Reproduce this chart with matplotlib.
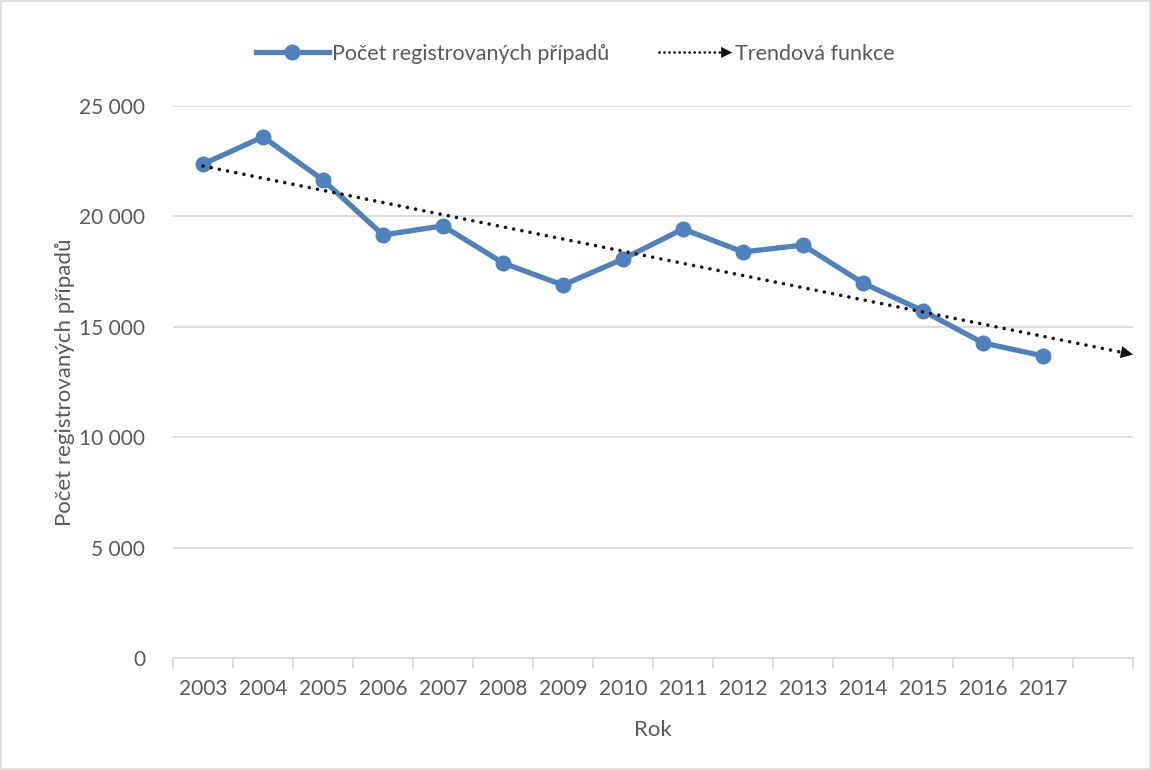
import numpy as np
import matplotlib
matplotlib.use("Agg")
import matplotlib.pyplot as plt
from matplotlib.legend_handler import HandlerLine2D
from matplotlib.lines import Line2D
from matplotlib.patches import Polygon, Rectangle
from matplotlib.ticker import FuncFormatter, FixedLocator

years = ["2003", "2004", "2005", "2006", "2007", "2008", "2009", "2010",
         "2011", "2012", "2013", "2014", "2015", "2016", "2017"]
cases = [22370, 23600, 21650, 19160, 19570, 17890, 16890, 18070,
         19430, 18390, 18700, 16980, 15720, 14270, 13680]

blue = "#4F81BD"
grey_text = "#595959"
grid_col = "#D9D9D9"
dark = "#111111"

plt.rcParams["font.family"] = ["Lato", "DejaVu Sans"]


class HandlerArrowLine(HandlerLine2D):
    """dotted line in the legend with a small arrow head at its right end"""
    def create_artists(self, legend, orig_handle, xdescent, ydescent,
                       width, height, fontsize, trans):
        arts = super().create_artists(legend, orig_handle, xdescent, ydescent,
                                      width - 8, height, fontsize, trans)
        y = height / 2 - ydescent
        x1 = width - xdescent
        head = Polygon([[x1 - 8, y - 4], [x1 - 8, y + 4], [x1, y]],
                       closed=True, facecolor=dark, edgecolor="none",
                       transform=trans)
        return arts + [head]


fig = plt.figure(figsize=(11.51, 7.70), dpi=100)
ax = fig.add_axes([173 / 1151, 1 - 658 / 770, 960 / 1151, 552 / 770])

x = np.arange(len(years))
ax.plot(x, cases, color=blue, lw=3.8, marker="o", markersize=10.5,
        solid_joinstyle="round", zorder=3)

# linear trend, forecast to the right edge of the axis
k, q = np.polyfit(x, cases, 1)
tx = np.array([0, len(years) + 0.5])
ty = k * tx + q
ax.plot([tx[0], tx[1] - 0.1], [ty[0], ty[1] - 0.1 * k], color=dark, lw=2.6,
        linestyle=(0, (0.01, 2.3)), dash_capstyle="round", zorder=4)
ax.annotate("", xy=(tx[1], ty[1]), xytext=(tx[1] - 0.3, ty[1] - 0.3 * k),
            arrowprops=dict(arrowstyle="-|>", color=dark, lw=0,
                            mutation_scale=22, shrinkA=0, shrinkB=0), zorder=5)

ax.set_xlim(-0.5, len(years) + 0.5)
ax.set_ylim(0, 25000)
ax.set_yticks(np.arange(0, 25001, 5000))
ax.yaxis.set_major_formatter(FuncFormatter(lambda v, p: f"{int(v):,}".replace(",", " ")))
ax.grid(axis="y", color=grid_col, lw=1.3)
ax.set_axisbelow(True)

ax.set_xticks(x)
ax.set_xticklabels(years)
ax.xaxis.set_minor_locator(FixedLocator(np.arange(-0.5, len(years) + 1, 1)))
ax.tick_params(axis="x", which="major", length=0, pad=15, labelsize=15,
               labelcolor=grey_text)
ax.tick_params(axis="x", which="minor", length=7, width=1.3, color=grid_col)
ax.tick_params(axis="y", length=0, pad=20, labelsize=15, labelcolor=grey_text)

for s in ["top", "right", "left"]:
    ax.spines[s].set_visible(False)
ax.spines["bottom"].set_color(grid_col)
ax.spines["bottom"].set_linewidth(1.3)

ax.set_xlabel("Rok", fontsize=16, color=grey_text, labelpad=15)
ax.set_ylabel("Počet registrovaných případů", fontsize=16, color=grey_text,
              labelpad=3)

h1 = Line2D([], [], color=blue, lw=3.8, marker="o", markersize=10.5)
h2 = Line2D([], [], color=dark, lw=2.0, linestyle=(0, (0.01, 1.8)),
            dash_capstyle="round")
fig.legend([h1, h2], ["Počet registrovaných případů", "Trendová funkce"],
           loc="center", bbox_to_anchor=(0.5, 1 - 54 / 770), ncol=2,
           frameon=False, fontsize=15.5, labelcolor=grey_text,
           handlelength=3.4, handletextpad=0.15, columnspacing=2.3,
           handler_map={h2: HandlerArrowLine()})

fig.patches.append(Rectangle((0.001, 0.001), 0.998, 0.998, transform=fig.transFigure,
                             fill=False, edgecolor=grid_col, lw=1.2))

fig.savefig("out.png", dpi=100)
